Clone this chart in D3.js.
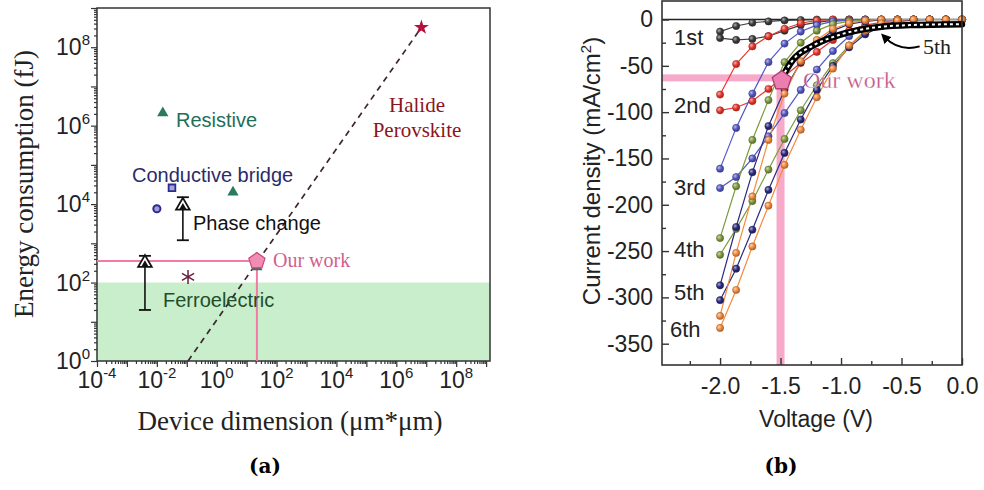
<!DOCTYPE html>
<html>
<head>
<meta charset="utf-8">
<script src="https://cdn.jsdelivr.net/npm/d3@7"></script>
<style>
  body { margin: 0; background: #fff; }
  svg { display: block; }
</style>
</head>
<body>
<script>
// ---------- panel (a): energy vs device dimension ----------
const resistivePts = [{x: 0.0158, y: 2.1e6}, {x: 3.5, y: 2.0e4}, {x: 22, y: 250}];
const bridgeSquare = [{x: 0.032, y: 2.6e4}];
const bridgeCircle = [{x: 0.01, y: 7.6e3}];
const phaseChange = [{x: 0.074, y: 9.1e3, lo: 1.2e3, hi: 1.5e4}];
const ferroelectric = [{x: 0.004, y: 316, lo: 20, hi: 480}];
const otherPts = [{x: 0.11, y: 139}];
const perovskitePts = [{x: 6.9e6, y: 3.2e8}];
const trendLine = [{x: 0.11, y: 1}, {x: 6.9e6, y: 3.2e8}];
const ourWorkA = {x: 22, y: 355};
const lowEnergyBand = [1, 100];
const xDecadesA = [-4, -3, -2, -1, 0, 1, 2, 3, 4, 5, 6, 7, 8, 9];
const xLabelsA = [-4, -2, 0, 2, 4, 6, 8];
const yDecadesA = [0, 1, 2, 3, 4, 5, 6, 7, 8, 9];
const yLabelsA = [0, 2, 4, 6, 8];

// ---------- panel (b): J-V curves ----------
const voltage = [-2.0, -1.867, -1.733, -1.6, -1.467, -1.333, -1.2, -1.067, -0.933, -0.8, -0.667, -0.533, -0.4, -0.267, -0.133, 0.0];
const j1a = [-13, -7, -3.5, -2, -1, -0.5, 0, 0, 0, 0, 0, 0, 0, 0, 0, 0];
const j1b = [-20, -22, -21, -18, -12, -6, -3, -1, 0, 0, 0, 0, 0, 0, 0, 0];
const j2a = [-81, -48, -29, -18, -10, -4, -1, 0, 0, 0, 0, 0, 0, 0, 0, 0];
const j2b = [-98, -95, -88, -75, -61, -47, -35, -22, -12, -6, -3, -1, 0, 0, 0, 0];
const j3a = [-161, -117, -80, -46, -26, -13, -6, -2, -1, 0, 0, 0, 0, 0, 0, 0];
const j3b = [-182, -170, -150, -126, -101, -76, -54, -34, -18, -9, -4, -1.5, 0, 0, 0, 0];
const j4a = [-236, -180, -130, -87, -46, -25, -12, -5, -2, -1, 0, 0, 0, 0, 0, 0];
const j4b = [-254, -226, -196, -162, -129, -98, -71, -47, -28, -14, -6, -2, -0.5, 0, 0, 0];
const j5a = [-287, -224, -165, -115, -76, -46, -25, -12, -5, -2, -0.5, 0, 0, 0, 0, 0];
const j5b = [-303, -269, -227, -184, -144, -108, -76, -50, -30, -16, -7, -2, -0.5, 0, 0, 0];
const j6a = [-320, -252, -191, -130, -80, -45, -22, -10, -4, -1, 0, 0, 0, 0, 0, 0];
const j6b = [-333, -292, -245, -201, -157, -119, -84, -53, -28, -12, -4, -1, 0, 0, 0, 0];
const cycleNames = ['1st', '2nd', '3rd', '4th', '5th', '6th'];
const cycleColors = ['#3c3c3c', '#e8352b', '#5458c4', '#7d9a3c', '#2a2a80', '#f48a3c'];
const boldV = [-1.49, -1.40, -1.23, -1.07, -0.84, -0.68, -0.43, 0.0];
const boldJ = [-63, -44, -28, -19, -11, -8, -6, -5];
const ourWorkB = {v: -1.49, j: -66};
const markV = -1.5, markJ = -63;
const yTicksB = [0, -50, -100, -150, -200, -250, -300, -350];
const yMinorB = [-25, -75, -125, -175, -225, -275, -325];
const xTicksB = [-2.0, -1.5, -1.0, -0.5, 0.0];
const xMinorB = [-2.25, -1.75, -1.25, -0.75, -0.25];

const SANS = '"Liberation Sans", Arial, sans-serif';
const SERIF = '"Liberation Serif", "Times New Roman", serif';

const svg = d3.select('body').append('svg').attr('width', 984).attr('height', 490);
const defs = svg.append('defs');

// ================= panel (a) =================
const xA = d3.scaleLog().domain([1e-4, 1.35e9]).range([97, 490]);
const yA = d3.scaleLog().domain([1, 1e9]).range([361, 8]);
const gA = svg.append('g');

gA.append('rect')
  .attr('x', xA.range()[0]).attr('width', xA.range()[1] - xA.range()[0])
  .attr('y', yA(lowEnergyBand[1])).attr('height', yA(lowEnergyBand[0]) - yA(lowEnergyBand[1]))
  .attr('fill', '#c8eecb');

// ticks
const minorsX = [];
xDecadesA.slice(0, -1).forEach(e => { for (let k = 2; k <= 9; k++) minorsX.push(k * Math.pow(10, e)); });
const minorsY = [];
yDecadesA.slice(0, -1).forEach(e => { for (let k = 2; k <= 9; k++) minorsY.push(k * Math.pow(10, e)); });

gA.append('g').attr('transform', `translate(0,${yA.range()[0]})`)
  .call(d3.axisBottom(xA).tickValues(xDecadesA.map(e => Math.pow(10, e))).tickSize(6).tickFormat(''))
  .call(g => g.select('.domain').remove());
gA.append('g').attr('transform', `translate(0,${yA.range()[0]})`)
  .call(d3.axisBottom(xA).tickValues(minorsX.filter(v => v <= xA.domain()[1])).tickSize(3).tickFormat(''))
  .call(g => g.select('.domain').remove());
gA.append('g').attr('transform', `translate(${xA.range()[0]},0)`)
  .call(d3.axisLeft(yA).tickValues(yDecadesA.map(e => Math.pow(10, e))).tickSize(6).tickFormat(''))
  .call(g => g.select('.domain').remove());
gA.append('g').attr('transform', `translate(${xA.range()[0]},0)`)
  .call(d3.axisLeft(yA).tickValues(minorsY).tickSize(3).tickFormat(''))
  .call(g => g.select('.domain').remove());
gA.selectAll('.tick line').attr('stroke', '#333').attr('stroke-width', 1.2);

function powLabel(g, x, y, e, anchor) {
  const t = g.append('text').attr('x', x).attr('y', y).attr('text-anchor', anchor)
    .attr('font-family', SANS).attr('font-size', 23).attr('fill', '#222');
  t.append('tspan').text('10');
  t.append('tspan').attr('dy', -10).attr('font-size', 15).text(String(e));
}
xLabelsA.forEach(e => powLabel(gA, xA(Math.pow(10, e)), 388, e, 'middle'));
yLabelsA.forEach(e => powLabel(gA, 90, yA(Math.pow(10, e)) + 8, e, 'end'));

gA.append('rect')
  .attr('x', xA.range()[0]).attr('y', yA.range()[1])
  .attr('width', xA.range()[1] - xA.range()[0]).attr('height', yA.range()[0] - yA.range()[1])
  .attr('fill', 'none').attr('stroke', '#333').attr('stroke-width', 1.5);

// pink guide lines to our work
gA.append('path')
  .attr('d', `M${xA.range()[0]},${yA(ourWorkA.y)}H${xA(ourWorkA.x)}V${yA.range()[0]}`)
  .attr('fill', 'none').attr('stroke', '#f27aa3').attr('stroke-width', 2);

// dashed trend line
gA.append('path')
  .attr('d', d3.line().x(d => xA(d.x)).y(d => yA(d.y))(trendLine))
  .attr('fill', 'none').attr('stroke', '#3e2630').attr('stroke-width', 1.7)
  .attr('stroke-dasharray', '6,5');

const sym = (type, size) => d3.symbol().type(type).size(size)();

gA.selectAll('.res').data(resistivePts).join('path')
  .attr('transform', d => `translate(${xA(d.x)},${yA(d.y)})`)
  .attr('d', sym(d3.symbolTriangle, 55)).attr('fill', '#2b7a5c');

gA.selectAll('.sq').data(bridgeSquare).join('path')
  .attr('transform', d => `translate(${xA(d.x)},${yA(d.y)})`)
  .attr('d', sym(d3.symbolSquare, 45)).attr('fill', '#a6a6dc').attr('stroke', '#2c2c8c').attr('stroke-width', 1.8);

gA.selectAll('.ci').data(bridgeCircle).join('path')
  .attr('transform', d => `translate(${xA(d.x)},${yA(d.y)})`)
  .attr('d', sym(d3.symbolCircle, 40)).attr('fill', '#9d9ddb').attr('stroke', '#2c2c8c').attr('stroke-width', 2);

function errTriangle(data) {
  const g = gA.append('g');
  data.forEach(d => {
    const cx = xA(d.x);
    g.append('line').attr('x1', cx).attr('x2', cx).attr('y1', yA(d.hi)).attr('y2', yA(d.lo))
      .attr('stroke', '#111').attr('stroke-width', 1.6);
    [d.hi, d.lo].forEach(v => g.append('line').attr('x1', cx - 6).attr('x2', cx + 6)
      .attr('y1', yA(v)).attr('y2', yA(v)).attr('stroke', '#111').attr('stroke-width', 1.8));
    g.append('path').attr('transform', `translate(${cx},${yA(d.y)})`)
      .attr('d', sym(d3.symbolTriangle, 80)).attr('fill', '#fff').attr('stroke', '#111').attr('stroke-width', 1.8);
    g.append('path').attr('transform', `translate(${cx},${yA(d.y) + 1.5})`)
      .attr('d', sym(d3.symbolTriangle, 22)).attr('fill', '#111');
  });
}
errTriangle(phaseChange);
errTriangle(ferroelectric);

gA.selectAll('.ast').data(otherPts).join('path')
  .attr('transform', d => `translate(${xA(d.x)},${yA(d.y)})`)
  .attr('d', sym(d3.symbolAsterisk, 140)).attr('fill', 'none').attr('stroke', '#6b1f3e').attr('stroke-width', 1.5);

gA.selectAll('.star').data(perovskitePts).join('path')
  .attr('transform', d => `translate(${xA(d.x)},${yA(d.y)})`)
  .attr('d', sym(d3.symbolStar, 70)).attr('fill', '#b3123f');

function pentagonPath(r) {
  const pts = d3.range(5).map(i => {
    const a = -Math.PI / 2 + i * 2 * Math.PI / 5;
    return [r * Math.cos(a), r * Math.sin(a)];
  });
  return d3.line()(pts) + 'Z';
}
gA.append('path').attr('transform', `translate(${xA(ourWorkA.x)},${yA(ourWorkA.y)})`)
  .attr('d', pentagonPath(8.5)).attr('fill', '#f28cb5').attr('stroke', '#c4487a').attr('stroke-width', 1.2);

// annotations
const annA = [
  {t: 'Resistive', x: 176, y: 127, c: '#1f6e5a', f: SANS, s: 20},
  {t: 'Conductive bridge', x: 132, y: 182, c: '#2b2b6b', f: SANS, s: 20},
  {t: 'Phase change', x: 193, y: 230, c: '#111', f: SANS, s: 20},
  {t: 'Ferroelectric', x: 163, y: 307, c: '#1f4d2b', f: SANS, s: 20},
  {t: 'Our work', x: 273, y: 267, c: '#d0608f', f: SERIF, s: 20}
];
annA.forEach(a => gA.append('text').attr('x', a.x).attr('y', a.y).attr('fill', a.c)
  .attr('font-family', a.f).attr('font-size', a.s).text(a.t));
gA.append('text').attr('x', 417).attr('y', 112).attr('text-anchor', 'middle').attr('fill', '#8b1520')
  .attr('font-family', SERIF).attr('font-size', 21).text('Halide');
gA.append('text').attr('x', 417).attr('y', 137).attr('text-anchor', 'middle').attr('fill', '#8b1520')
  .attr('font-family', SERIF).attr('font-size', 21).text('Perovskite');

gA.append('text').attr('transform', 'translate(33,184) rotate(-90)').attr('text-anchor', 'middle')
  .attr('font-family', SERIF).attr('font-size', 27).attr('fill', '#222').text('Energy consumption (fJ)');
gA.append('text').attr('x', 290).attr('y', 430).attr('text-anchor', 'middle')
  .attr('font-family', SERIF).attr('font-size', 27).attr('fill', '#222').text('Device dimension (\u03bcm*\u03bcm)');
gA.append('text').attr('x', 265).attr('y', 473).attr('text-anchor', 'middle')
  .attr('font-family', '"DejaVu Serif", serif').attr('font-weight', 'bold').attr('font-size', 20).text('(a)');

// ================= panel (b) =================
const xB = d3.scaleLinear().domain([-2.48, 0]).range([662, 962]);
const yB = d3.scaleLinear().domain([-373, 20]).range([365, 1]);
const gB = svg.append('g');

// pink guides
gB.append('rect').attr('x', xB.range()[0]).attr('y', yB(markJ) - 3.5)
  .attr('width', xB(markV) - xB.range()[0]).attr('height', 7).attr('fill', '#f7a9c9');
gB.append('rect').attr('x', xB(markV) - 4).attr('y', yB(markJ) - 3.5)
  .attr('width', 8).attr('height', yB.range()[0] - yB(markJ) + 3.5).attr('fill', '#f7a9c9');

// zero line
gB.append('line').attr('x1', xB.range()[0]).attr('x2', xB.range()[1])
  .attr('y1', yB(0)).attr('y2', yB(0)).attr('stroke', '#222').attr('stroke-width', 1.6);

const series = [
  {c: 0, j: j1a}, {c: 0, j: j1b}, {c: 1, j: j2a}, {c: 1, j: j2b},
  {c: 2, j: j3a}, {c: 2, j: j3b}, {c: 3, j: j4a}, {c: 3, j: j4b},
  {c: 4, j: j5a}, {c: 4, j: j5b}, {c: 5, j: j6a}, {c: 5, j: j6b}
];

cycleColors.forEach((col, i) => {
  const base = d3.color(col);
  const gr = defs.append('radialGradient').attr('id', 'ball' + i).attr('cx', '35%').attr('cy', '35%').attr('r', '65%');
  gr.append('stop').attr('offset', '0%').attr('stop-color', d3.interpolateRgb(col, '#fff')(0.6));
  gr.append('stop').attr('offset', '55%').attr('stop-color', col);
  gr.append('stop').attr('offset', '100%').attr('stop-color', base.darker(0.9).formatHex());
});

const lineB = d3.line().x((d, i) => xB(voltage[i])).y(d => yB(d));
series.forEach(s => {
  const col = cycleColors[s.c];
  gB.append('path').attr('d', lineB(s.j)).attr('fill', 'none')
    .attr('stroke', col).attr('stroke-width', 1.2);
});
series.forEach(s => {
  gB.selectAll(null).data(s.j).join('circle')
    .attr('cx', (d, i) => xB(voltage[i])).attr('cy', d => yB(d)).attr('r', 3.6)
    .attr('fill', `url(#ball${s.c})`)
    .attr('stroke', d3.color(cycleColors[s.c]).darker(1).formatHex()).attr('stroke-width', 0.6);
});

// bold 5th curve
const boldLine = d3.line().curve(d3.curveMonotoneX).x((d, i) => xB(boldV[i])).y(d => yB(d));
gB.append('path').attr('d', boldLine(boldJ)).attr('fill', 'none').attr('stroke', '#000').attr('stroke-width', 6.5)
  .attr('stroke-linecap', 'round');
gB.append('path').attr('d', boldLine(boldJ)).attr('fill', 'none').attr('stroke', '#fff').attr('stroke-width', 2)
  .attr('stroke-dasharray', '3,3');

gB.append('path').attr('transform', `translate(${xB(ourWorkB.v)},${yB(ourWorkB.j)})`)
  .attr('d', pentagonPath(10)).attr('fill', '#ea7fb0').attr('stroke', '#b03e72').attr('stroke-width', 1.3);

// ticks (inward)
gB.append('g').attr('transform', `translate(0,${yB.range()[0]})`)
  .call(d3.axisBottom(xB).tickValues(xTicksB).tickSize(-7).tickPadding(13).tickFormat(d => d.toFixed(1)))
  .call(g => g.select('.domain').remove());
gB.append('g').attr('transform', `translate(0,${yB.range()[0]})`)
  .call(d3.axisBottom(xB).tickValues(xMinorB).tickSize(-4).tickFormat(''))
  .call(g => g.select('.domain').remove());
gB.append('g').attr('transform', `translate(${xB.range()[0]},0)`)
  .call(d3.axisLeft(yB).tickValues(yTicksB).tickSize(-7).tickPadding(9).tickFormat(d => String(d)))
  .call(g => g.select('.domain').remove());
gB.append('g').attr('transform', `translate(${xB.range()[0]},0)`)
  .call(d3.axisLeft(yB).tickValues(yMinorB).tickSize(-4).tickFormat(''))
  .call(g => g.select('.domain').remove());
gB.selectAll('.tick line').attr('stroke', '#333').attr('stroke-width', 1.4);
gB.selectAll('.tick text').attr('font-family', SANS).attr('font-size', 23).attr('fill', '#222');

gB.append('rect').attr('x', xB.range()[0]).attr('y', yB.range()[1])
  .attr('width', xB.range()[1] - xB.range()[0]).attr('height', yB.range()[0] - yB.range()[1])
  .attr('fill', 'none').attr('stroke', '#333').attr('stroke-width', 1.6);

// cycle labels
const labelY = [45, 113, 195, 257, 300, 337];
cycleNames.forEach((n, i) => gB.append('text').attr('x', i === 5 ? 670 : 674).attr('y', labelY[i])
  .attr('font-family', SANS).attr('font-size', 22).attr('fill', '#222').text(n));

gB.append('text').attr('x', 803).attr('y', 88).attr('font-family', SERIF).attr('font-size', 24)
  .attr('fill', '#c0508a').attr('stroke', '#fff').attr('stroke-width', 0.3).text('Our work');

defs.append('marker').attr('id', 'arrow').attr('viewBox', '0 0 10 10').attr('refX', 5).attr('refY', 5)
  .attr('markerWidth', 5).attr('markerHeight', 5).attr('orient', 'auto')
  .append('path').attr('d', 'M0,0L10,5L0,10z').attr('fill', '#000');
gB.append('path')
  .attr('d', `M${xB(-0.35)},${yB(-29)} Q${xB(-0.52)},${yB(-35)} ${xB(-0.64)},${yB(-19)}`)
  .attr('fill', 'none').attr('stroke', '#000').attr('stroke-width', 2).attr('marker-end', 'url(#arrow)');
gB.append('text').attr('x', 923).attr('y', 54).attr('font-family', SERIF).attr('font-size', 22)
  .attr('fill', '#222').text('5th');

gB.append('text').attr('transform', 'translate(600,171) rotate(-90)').attr('text-anchor', 'middle')
  .attr('font-family', SANS).attr('font-size', 24).attr('fill', '#222')
  .call(t => {
    t.append('tspan').text('Current density (mA/cm');
    t.append('tspan').attr('dy', -9).attr('font-size', 15).text('2');
    t.append('tspan').attr('dy', 9).text(')');
  });
gB.append('text').attr('x', 816).attr('y', 427).attr('text-anchor', 'middle')
  .attr('font-family', SANS).attr('font-size', 23).attr('fill', '#222').text('Voltage (V)');
gB.append('text').attr('x', 781).attr('y', 473).attr('text-anchor', 'middle')
  .attr('font-family', '"DejaVu Serif", serif').attr('font-weight', 'bold').attr('font-size', 20).text('(b)');
</script>
</body>
</html>
